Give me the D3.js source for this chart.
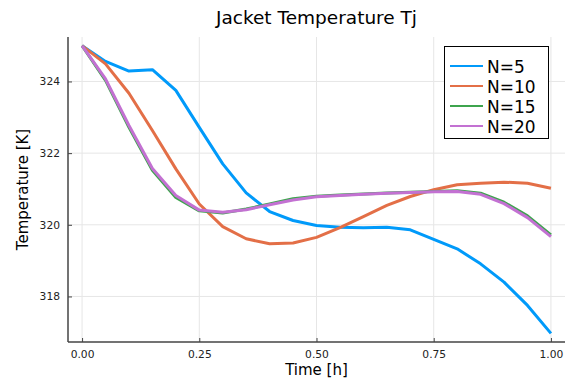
<!DOCTYPE html>
<html>
<head>
<meta charset="utf-8">
<script src="https://cdn.jsdelivr.net/npm/d3@7"></script>
<style>
  html, body { margin: 0; padding: 0; background: #fff; }
  svg { display: block; font-family: "DejaVu Sans", sans-serif; }
</style>
</head>
<body>
<svg id="chart" width="569" height="380"></svg>
<script>
// Jacket temperature over one hour of operation for different discretisations
const time = [0.00, 0.05, 0.10, 0.15, 0.20, 0.25, 0.30, 0.35, 0.40, 0.45, 0.50,
              0.55, 0.60, 0.65, 0.70, 0.75, 0.80, 0.85, 0.90, 0.95, 1.00];
const seriesNames = ["N=5", "N=10", "N=15", "N=20"];
const tjN5  = [325.00, 324.56, 324.29, 324.33, 323.75, 322.72, 321.70, 320.89, 320.37, 320.12, 319.98,
               319.93, 319.92, 319.93, 319.86, 319.59, 319.33, 318.91, 318.40, 317.75, 316.97];
const tjN10 = [325.00, 324.49, 323.67, 322.63, 321.56, 320.58, 319.95, 319.61, 319.47, 319.49, 319.65,
               319.92, 320.23, 320.54, 320.79, 320.98, 321.12, 321.16, 321.19, 321.16, 321.02];
const tjN15 = [325.00, 324.03, 322.72, 321.52, 320.76, 320.39, 320.33, 320.44, 320.58, 320.73, 320.80,
               320.83, 320.86, 320.89, 320.91, 320.93, 320.95, 320.88, 320.63, 320.25, 319.72];
const tjN20 = [325.00, 324.07, 322.77, 321.57, 320.82, 320.41, 320.35, 320.42, 320.56, 320.69, 320.78,
               320.82, 320.85, 320.88, 320.90, 320.92, 320.93, 320.85, 320.59, 320.20, 319.67];
const xTicks = [0, 0.25, 0.5, 0.75, 1];
const yTicks = [318, 320, 322, 324];
const colors = ["#009AFA", "#E36F47", "#3EA44E", "#C371D2"];

const series = [tjN5, tjN10, tjN15, tjN20].map((vals, i) => ({
  name: seriesNames[i],
  color: colors[i],
  points: vals.map((v, j) => [time[j], v])
}));

const svg = d3.select("#chart");
const plotLeft = 68, plotRight = 565, plotTop = 37, plotBottom = 342;

// 3% padding around the data extent on both axes
const xExt = d3.extent(time);
const xPad = (xExt[1] - xExt[0]) * 0.03;
const x = d3.scaleLinear().domain([xExt[0] - xPad, xExt[1] + xPad]).range([plotLeft, plotRight]);
const allY = [].concat(tjN5, tjN10, tjN15, tjN20);
const yExt = d3.extent(allY);
const yPad = (yExt[1] - yExt[0]) * 0.03;
const y = d3.scaleLinear().domain([yExt[0] - yPad, yExt[1] + yPad]).range([plotBottom, plotTop]);

// grid
const grid = svg.append("g");
grid.selectAll("line.gx").data(xTicks).join("line")
  .attr("x1", d => x(d)).attr("x2", d => x(d))
  .attr("y1", plotTop).attr("y2", plotBottom)
  .attr("stroke", "#e6e6e6").attr("stroke-width", 1);
grid.selectAll("line.gy").data(yTicks).join("line")
  .attr("y1", d => y(d)).attr("y2", d => y(d))
  .attr("x1", plotLeft).attr("x2", plotRight)
  .attr("stroke", "#e6e6e6").attr("stroke-width", 1);

// axes
const xAxis = d3.axisBottom(x).tickValues(xTicks).tickFormat(d3.format(".2f"))
  .tickSizeInner(-4).tickSizeOuter(0).tickPadding(8);
const yAxis = d3.axisLeft(y).tickValues(yTicks).tickFormat(d3.format("d"))
  .tickSizeInner(-4).tickSizeOuter(0).tickPadding(8);

const gx = svg.append("g").attr("transform", `translate(0,${plotBottom})`).call(xAxis);
const gy = svg.append("g").attr("transform", `translate(${plotLeft},0)`).call(yAxis);
[gx, gy].forEach(g => {
  g.select(".domain").attr("stroke", "#444").attr("stroke-width", 1.5);
  g.selectAll(".tick line").attr("stroke", "#444").attr("stroke-width", 1);
  g.selectAll(".tick text").attr("font-size", "10.7px").attr("fill", "#222")
    .attr("font-family", "DejaVu Sans, sans-serif");
});
gx.select(".domain").attr("d", `M${plotLeft},0H${plotRight}`);
gy.select(".domain").attr("d", `M0,${plotTop}V${plotBottom}`);

// lines
const line = d3.line().x(d => x(d[0])).y(d => y(d[1]));
svg.append("g").selectAll("path").data(series).join("path")
  .attr("d", d => line(d.points))
  .attr("fill", "none")
  .attr("stroke", d => d.color)
  .attr("stroke-width", 3)
  .attr("stroke-linejoin", "round");

// title and axis labels
svg.append("text").attr("x", (plotLeft + plotRight) / 2).attr("y", 24)
  .attr("text-anchor", "middle").attr("font-size", "18.5px").attr("fill", "#000")
  .text("Jacket Temperature Tj");
svg.append("text").attr("x", (plotLeft + plotRight) / 2).attr("y", 375)
  .attr("text-anchor", "middle").attr("font-size", "15px").attr("fill", "#000")
  .text("Time [h]");
svg.append("text")
  .attr("transform", `translate(28,${(plotTop + plotBottom) / 2}) rotate(-90)`)
  .attr("text-anchor", "middle").attr("font-size", "15px").attr("fill", "#000")
  .text("Temperature [K]");

// legend
const lg = svg.append("g");
lg.append("rect").attr("x", 444.5).attr("y", 46.5).attr("width", 104).attr("height", 92)
  .attr("fill", "#fff").attr("stroke", "#000").attr("stroke-width", 1);
const items = lg.selectAll("g.item").data(series).join("g")
  .attr("transform", (d, i) => `translate(0,${66 + i * 20})`);
items.append("line").attr("x1", 450).attr("x2", 483).attr("y1", 0).attr("y2", 0)
  .attr("stroke", d => d.color).attr("stroke-width", 2);
items.append("text").attr("x", 487).attr("y", 6.5)
  .attr("font-size", "17px").attr("fill", "#000")
  .text(d => d.name);
</script>
</body>
</html>
